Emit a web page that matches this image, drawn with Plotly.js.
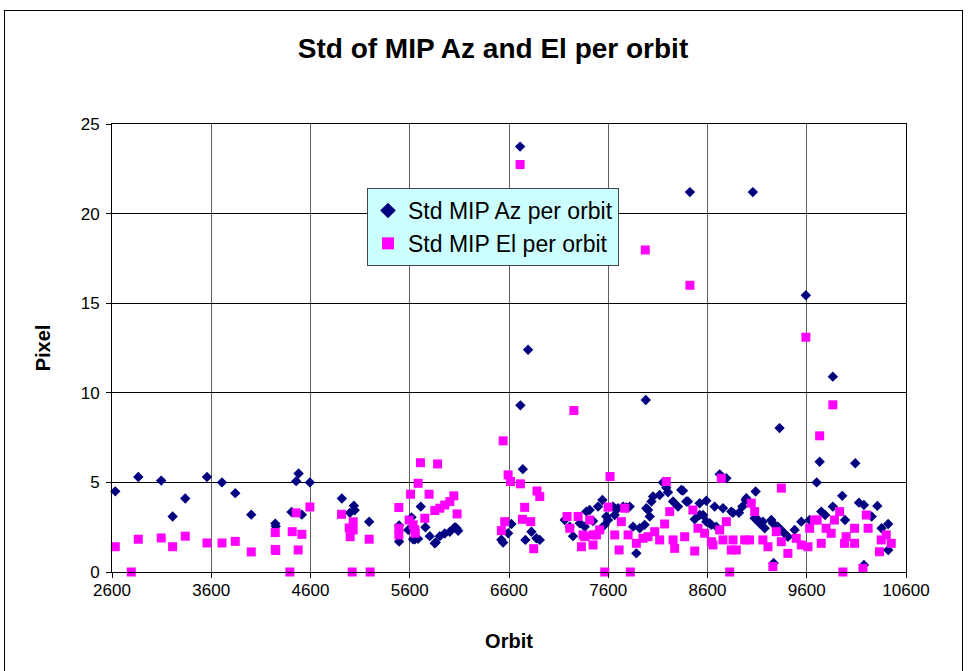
<!DOCTYPE html>
<html>
<head>
<meta charset="utf-8">
<script src="https://cdn.plot.ly/plotly-3.0.1.min.js"></script>
<style>
  html, body { margin:0; padding:0; background:#fff; overflow:hidden; }
  #frame { position:absolute; left:4px; top:10px; width:959px; height:700px; border:1px solid #000; box-sizing:border-box; }
  #chart { position:absolute; left:0; top:0; width:968px; height:671px; }
</style>
</head>
<body>
<div id="frame"></div>
<div id="chart"></div>
<script>
// Std MIP Az per orbit
const orbitAz = [2633,2865,3096,3211,3338,3557,3708,3842,4003,4245,4250,4409,4456,4480,4513,4594,4916,4997,5037,5045,5191,
  5493,5493,5584,5618,5634,5651,5684,5711,5758,5802,5852,5862,5903,5953,6004,6054,6071,6088,
  6523,6541,6591,6624,6712,6715,6739,6765,6792,6826,6876,6910,
  7161,7212,7245,7313,7363,7380,7413,7447,7497,7515,7541,7565,7581,7598,7648,7665,7698,7749,7783,7816,7850,7883,7917,7967,7978,7984,
  8001,8018,8035,8051,8118,8150,8185,8202,8253,8303,8336,8353,8387,8403,8423,8471,8521,8521,8555,8588,8588,8622,8639,8672,8689,8723,8756,8790,
  8840,8857,8917,8951,8985,8991,9057,9075,9085,9092,9125,9158,9176,9243,9259,9266,9310,9326,9360,9410,9478,9545,9591,9629,
  9700,9730,9746,9785,9863,9863,9958,9986,10089,10126,10176,10176,10254,10311,10354,10420,10421];
const azStd = [4.5,5.3,5.1,3.1,4.1,5.3,5.0,4.4,3.2,2.7,2.55,3.35,5.07,5.5,3.2,5.0,4.1,3.3,3.7,3.45,2.8,
  2.6,1.7,2.35,3.05,1.83,1.82,1.85,3.65,2.5,2.0,1.6,1.65,2.0,2.15,2.25,2.5,2.44,2.3,
  1.8,1.64,2.16,2.68,23.74,9.3,5.74,1.79,12.4,2.25,1.88,1.79,
  2.9,2.53,2.0,2.72,2.53,3.37,3.46,2.85,3.65,2.35,4.02,2.63,3.1,2.9,3.65,3.18,3.56,3.65,3.6,3.65,2.53,1.04,2.44,2.63,9.6,3.56,
  3.46,3.1,3.93,4.21,4.3,5.0,4.7,4.45,3.93,3.65,4.58,4.54,3.93,3.93,21.2,2.94,3.84,3.18,3.18,3.98,2.81,2.72,2.63,3.65,2.53,5.45,3.56,5.23,
  3.37,3.3,3.31,3.65,4.02,4.12,21.2,3.0,4.49,3.0,2.72,2.81,2.44,2.9,2.72,0.5,2.53,8.03,2.25,1.97,2.35,2.81,15.44,2.9,
  5.0,6.15,3.37,3.18,10.9,3.65,4.25,2.9,6.07,3.87,3.74,0.39,3.1,3.69,2.44,2.68,1.23];

// Std MIP El per orbit
const orbitEl = [2633,2794,2865,3096,3211,3338,3557,3708,3842,4003,4245,4245,4250,4392,4416,4456,4476,4513,4594,4912,4990,5000,5030,5030,5020,5191,5201,
  5490,5490,5490,5594,5608,5634,5651,5655,5684,5708,5752,5795,5852,5880,5903,5953,6004,6044,6077,
  6523,6541,6557,6591,6615,6712,6715,6735,6758,6819,6849,6882,6910,
  7185,7212,7254,7296,7330,7346,7363,7413,7447,7447,7481,7514,7565,7598,7618,7665,7709,7732,7766,7800,7823,7883,7950,7973,
  8001,8068,8118,8168,8185,8219,8253,8269,8370,8423,8453,8471,8504,8571,8639,8655,8723,8739,8756,8790,8823,8840,8857,8890,8974,
  9024,9041,9075,9158,9209,9259,9293,9344,9344,9410,9494,9545,9591,9612,9629,9679,9705,9730,9746,9795,9846,9863,9879,9931,9964,9981,9997,
  10082,10082,10166,10200,10218,10333,10350,10401,10451];
const elStd = [1.41,0,1.83,1.9,1.41,2.0,1.62,1.62,1.71,1.12,2.2,1.26,1.2,0,2.25,3.3,1.23,2.1,3.63,3.22,2.46,1.97,2.8,2.35,0,1.83,0,
  3.6,2.44,2.07,2.9,4.34,2.63,2.35,2.16,4.95,6.1,3.0,4.34,3.43,6.03,3.56,3.74,3.93,4.25,3.24,
  2.31,7.32,2.81,5.42,5.05,22.74,4.92,2.94,3.61,2.81,1.3,4.52,4.21,
  3.1,2.44,9.01,3.1,1.41,2.07,1.97,2.9,2.07,1.51,2.07,2.35,0,3.62,5.33,2.07,1.23,2.81,3.56,2.07,0,1.6,1.88,17.97,
  1.97,2.25,1.79,2.68,5.05,3.37,1.79,1.32,1.97,16.0,3.46,1.17,2.44,2.16,1.69,1.51,2.35,5.23,1.79,2.81,0,1.23,1.79,1.23,1.79,
  1.79,3.84,3.37,1.79,1.41,0.3,2.25,4.68,1.69,1.04,1.88,1.51,13.1,1.41,2.44,2.9,2.9,7.6,1.6,2.44,2.16,9.33,2.9,3.37,0,1.6,1.97,
  2.44,1.6,0.2,3.18,2.44,1.13,1.79,2.07,1.6];

const xTicks = [2600,3600,4600,5600,6600,7600,8600,9600,10600];
const yTicks = [0,5,10,15,20,25];

const FONT = 'Arial, "Liberation Sans", sans-serif';

const traces = [
  { type:'scatter', mode:'markers', name:'Std MIP Az per orbit', x:orbitAz, y:azStd,
    marker:{ symbol:'diamond', size:8, color:'#000080', line:{width:0} }, cliponaxis:false },
  { type:'scatter', mode:'markers', name:'Std MIP El per orbit', x:orbitEl, y:elStd,
    marker:{ symbol:'square', size:9, color:'#FF00FF', line:{width:0} }, cliponaxis:false }
];

const layout = {
  width:968, height:671,
  paper_bgcolor:'rgba(0,0,0,0)', plot_bgcolor:'#ffffff',
  margin:{ l:112, r:62, t:124, b:99 },
  font:{ family:FONT, color:'#000', size:17 },
  title:{ text:'<b>Std of MIP Az and El per orbit</b>', font:{ family:FONT, size:28, color:'#000' },
    x:493/968, xanchor:'center', xref:'container', y:1-48/671, yanchor:'middle', yref:'container' },
  xaxis:{ range:[2600,10600], tickvals:xTicks, ticktext:xTicks.map(String), showgrid:true, gridcolor:'#606060', gridwidth:1,
    showline:true, linecolor:'#000', linewidth:1, mirror:true, ticks:'outside', ticklen:5, tickcolor:'#000',
    ticklabelstandoff:-2,
    zeroline:false, tickfont:{ family:FONT, size:17, color:'#000' },
    title:{ text:'<b>Orbit</b>', font:{ family:FONT, size:20, color:'#000' }, standoff:34 } },
  yaxis:{ range:[0,25], tickvals:yTicks, ticktext:yTicks.map(String), showgrid:true, gridcolor:'#000', gridwidth:1,
    showline:true, linecolor:'#000', linewidth:1, mirror:true, ticks:'outside', ticklen:5, tickcolor:'#000',
    ticklabelstandoff:3,
    zeroline:false, tickfont:{ family:FONT, size:17, color:'#000' },
    title:{ text:'<b>Pixel</b>', font:{ family:FONT, size:20, color:'#000' }, standoff:24 } },
  showlegend:true,
  legend:{ x:(367-112)/794, y:(572-188)/448, xanchor:'left', yanchor:'top', bgcolor:'#CCFFFF', bordercolor:'#444', borderwidth:1,
    font:{ family:FONT, size:23, color:'#000' }, tracegroupgap:0, itemsizing:'constant', itemwidth:30 }
};

Plotly.newPlot('chart', traces, layout, { displayModeBar:false, staticPlot:true });
</script>
</body>
</html>
